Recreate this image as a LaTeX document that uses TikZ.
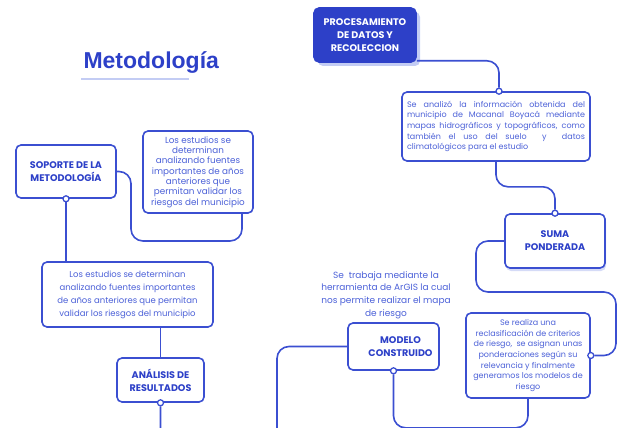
\documentclass[tikz,border=0pt]{standalone}
\usepackage{fontspec}
\setmainfont{Poppins}
\newfontfamily\titlefont{Liberation Sans}
\usetikzlibrary{shadows}
\definecolor{lineblue}{HTML}{3B4FD1}
\definecolor{darkblue}{HTML}{2D40C8}
\definecolor{textblue}{HTML}{4C61D8}
\definecolor{shadowblue}{HTML}{C3CCF4}
\newcommand{\jline}[1]{\makebox[178pt][s]{#1}}
\begin{document}
\begin{tikzpicture}[x=1pt,y=-1pt,
  box/.style={draw=lineblue,line width=1.6pt,rounded corners=5pt,fill=white,align=center,inner sep=0pt},
  headbox/.style={box,text=darkblue,font=\bfseries\fontsize{9.6}{12.8}\selectfont},
  notebox/.style={box,text=textblue,font=\fontsize{8}{10.6}\selectfont},
  conn/.style={draw=lineblue,line width=1.6pt,rounded corners=12pt},
  ring/.style={circle,draw=lineblue,line width=1.3pt,fill=white,inner sep=0pt,minimum size=6pt}]
 \useasboundingbox (0,0) rectangle (618,428);
 % title
 \node[anchor=base west,text=darkblue,font=\titlefont\bfseries\fontsize{23}{23}\selectfont] (title) at (80,68) {Metodología};
 \draw[shadowblue,line width=2.5pt] (81,79) -- (189,79);
 % right branch
 \node[headbox,fill=darkblue,draw=darkblue,text=white,minimum width=102pt,minimum height=54pt,
   drop shadow={shadow xshift=4pt,shadow yshift=-4pt,fill=shadowblue,opacity=1}] (proc) at (365,35)
   {PROCESAMIENTO\\DE DATOS Y\\RECOLECCION};
 \node[notebox,minimum width=188pt,minimum height=69pt,align=justify] (analizo) at (496,126.5)
   {\jline{Se analizó la información obtenida del}\\\jline{municipio de Macanal Boyacá mediante}\\\jline{mapas hidrográficos y topográficos, como}\\\jline{también el uso del suelo \ y \ datos}\\\makebox[178pt][l]{climatológicos para el estudio}};
 \node[headbox,minimum width=100pt,minimum height=54pt,
   drop shadow={shadow xshift=1pt,shadow yshift=-3pt,fill=shadowblue!70,opacity=1}] (suma) at (555,241)
   {SUMA\\PONDERADA};
 \node[notebox,minimum width=124pt,minimum height=85pt] (realiza) at (528,355.5)
   {Se realiza una\\reclasificación de criterios\\de riesgo, \ se asignan unas\\ponderaciones según su\\relevancia y finalmente\\generamos los modelos de\\riesgo};
 \node[headbox,minimum width=91pt,minimum height=47pt] (modelo) at (393.5,346.5)
   {\hspace*{14pt}MODELO\\\hspace*{14pt}CONSTRUIDO};
 \node[text=textblue,font=\fontsize{9}{12.7}\selectfont,align=center] (argis) at (386,295)
   {Se \ trabaja mediante la\\herramienta de ArGIS la cual\\nos permite realizar el mapa\\de riesgo};
 % left branch
 \node[headbox,minimum width=100pt,minimum height=53pt] (soporte) at (66,171.5)
   {SOPORTE DE LA\\METODOLOGÍA};
 \node[notebox,font=\fontsize{8.8}{10.3}\selectfont,minimum width=110pt,minimum height=82pt] (estudiosA) at (198,172)
   {Los estudios se\\determinan\\analizando fuentes\\importantes de años\\anteriores que\\permitan validar los\\riesgos del municipio};
 \node[notebox,font=\fontsize{8.5}{13}\selectfont,minimum width=171pt,minimum height=65pt] (estudiosB) at (127.5,294.5)
   {Los estudios se determinan\\analizando fuentes importantes\\de años anteriores que permitan\\validar los riesgos del municipio};
 \node[headbox,minimum width=87pt,minimum height=44pt] (analisis) at (160.5,380)
   {ANÁLISIS DE\\RESULTADOS};
 % rings
 \node[ring] (anaRing) at (analizo.north -| 499,0) {};
 \node[ring] (sumaRing) at (suma.north) {};
 \node[ring] (realRing) at (realiza.east) {};
 \node[ring] (modRing) at (modelo.south) {};
 \node[ring] (anlRing) at (analisis.south) {};
 \node[ring] (sopRing) at (soporte.south) {};
 % connectors
 \draw[conn] ([yshift=2pt]proc.south east) -| (anaRing.north);
 \draw[conn] (analizo.south) -- ++(0,25) -| (sumaRing.north);
 \draw[conn] (suma.west) -| (476,292) -| (616,355.5) -- (realRing.east);
 \draw[conn] (realiza.south) -- ++(0,29) -| (modRing.south);
 \begin{scope}
  \clip (0,0) rectangle (618,428);
  \draw[conn] (anlRing.south) |- (277,450) |- (modelo.west);
 \end{scope}
 \draw[conn] (soporte.east) -| (131,241) -| (estudiosA.south -| 242,0);
 \draw[conn] (sopRing.south) -- (estudiosB.north -| sopRing);
 \draw[conn] (estudiosB.south -| analisis.north) -- (analisis.north);
\end{tikzpicture}
\end{document}
